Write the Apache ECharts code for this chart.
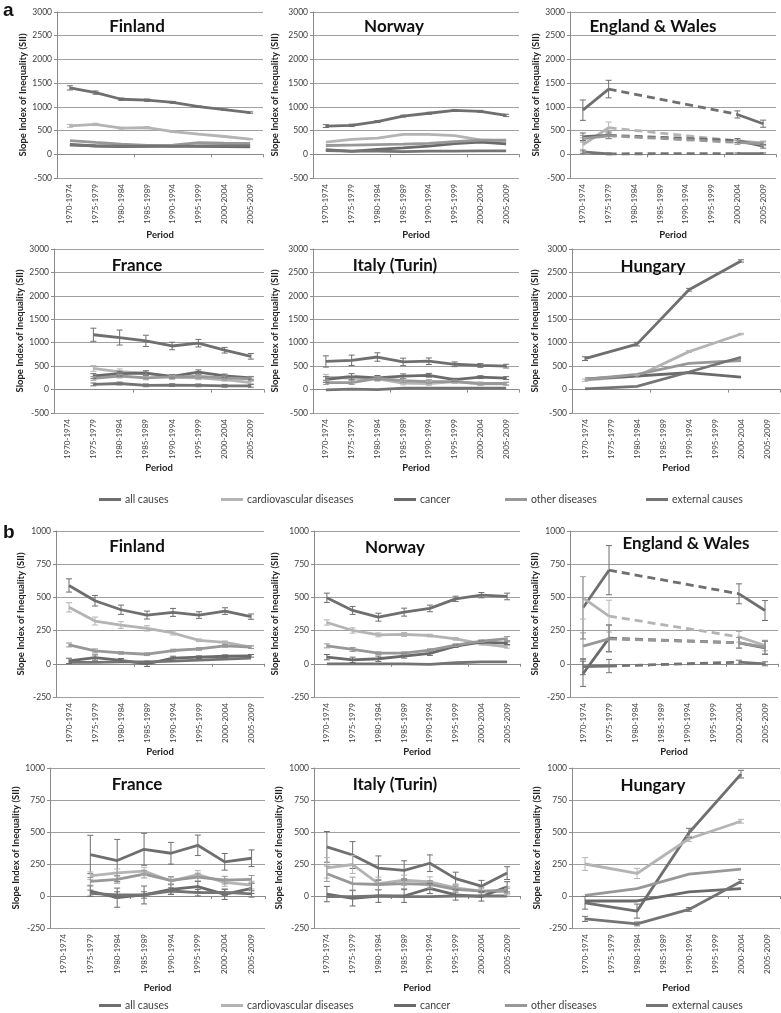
<!DOCTYPE html>
<html><head><meta charset="utf-8">
<script src="https://cdn.jsdelivr.net/npm/echarts@6.0.0/dist/echarts.min.js"></script>
<style>html,body{margin:0;padding:0;background:#fff}#c{width:781px;height:1013px}</style>
</head><body><div id="c"></div><script>
const PERIODS = ['1970-1974','1975-1979','1980-1984','1985-1989','1990-1994','1995-1999','2000-2004','2005-2009'];
const CAUSES = ['all causes','cardiovascular diseases','cancer','other diseases','external causes'];
const COLORS = ['#6f6f6f','#b4b4b4','#6a6a6a','#989898','#747474'];
const Y_TICKS_A = [-500, 3000, 500];
const Y_TICKS_B = [-250, 1000, 250];
const N = null;

// ---- panel a ----
const a_fin_all = [1400,1300,1160,1140,1095,1005,940,880];
const a_fin_cvd = [600,630,550,560,480,425,375,320];
const a_fin_can = [210,175,160,165,180,165,160,155];
const a_fin_oth = [290,250,215,185,195,245,235,230];
const a_fin_ext = [195,180,170,170,165,175,180,180];
const a_fin_all_e = [45,35,25,25,20,15,15,15];
const a_fin_cvd_e = [30,25,20,20,15,10,10,10];

const a_nor_all = [595,610,690,805,865,925,905,820];
const a_nor_cvd = [255,315,340,420,420,395,305,280];
const a_nor_can = [100,60,105,135,170,225,255,220];
const a_nor_oth = [185,195,205,215,230,265,300,300];
const a_nor_ext = [80,65,65,55,65,65,70,70];
const a_nor_all_e = [30,25,20,20,20,20,20,25];

const a_eng_all = [930,1375,N,N,N,N,840,645];
const a_eng_cvd = [200,560,N,N,N,N,280,240];
const a_eng_can = [370,400,N,N,N,N,290,170];
const a_eng_oth = [330,390,N,N,N,N,250,220];
const a_eng_ext = [50,10,N,N,N,N,15,15];
const a_eng_all_e = [215,185,0,0,0,0,75,75];
const a_eng_cvd_e = [150,120,0,0,0,0,40,40];
const a_eng_can_e = [80,70,0,0,0,0,40,40];
const a_eng_oth_e = [70,60,0,0,0,0,40,40];
const a_eng_ext_e = [40,20,0,0,0,0,15,15];

const a_fra_all = [N,1170,1110,1040,930,990,840,710];
const a_fra_cvd = [N,450,380,350,260,250,210,150];
const a_fra_can = [N,290,340,350,280,370,290,250];
const a_fra_oth = [N,240,290,250,270,280,250,230];
const a_fra_ext = [N,110,130,90,95,90,80,80];
const a_fra_all_e = [0,140,160,120,80,80,60,60];
const a_fra_cvd_e = [0,60,60,50,40,40,30,30];
const a_fra_can_e = [0,50,50,50,40,50,40,30];
const a_fra_oth_e = [0,40,40,40,40,40,40,40];
const a_fra_ext_e = [0,30,30,30,30,30,30,30];

const a_ita_all = [600,625,695,590,605,540,515,500];
const a_ita_cvd = [265,240,230,140,130,170,120,120];
const a_ita_can = [215,280,250,285,305,210,265,245];
const a_ita_oth = [150,150,240,190,170,170,130,130];
const a_ita_ext = [-5,10,0,30,30,30,30,30];
const a_ita_all_e = [120,110,90,80,70,50,40,40];
const a_ita_cvd_e = [60,60,50,40,40,30,30,30];
const a_ita_can_e = [60,60,50,50,40,30,30,30];
const a_ita_oth_e = [40,40,40,40,40,30,30,30];

const a_hun_all = [660,N,970,N,2130,N,2745,N];
const a_hun_cvd = [200,N,285,N,810,N,1185,N];
const a_hun_can = [230,N,290,N,360,N,265,N];
const a_hun_oth = [215,N,325,N,560,N,620,N];
const a_hun_ext = [15,N,70,N,375,N,690,N];
const a_hun_all_e = [40,0,40,0,30,0,25,0];
const a_hun_cvd_e = [25,0,25,0,20,0,15,0];

// ---- panel b ----
const b_fin_all = [590,475,407,367,387,367,397,355];
const b_fin_cvd = [425,322,292,267,232,177,162,125];
const b_fin_can = [22,47,25,0,42,50,57,60];
const b_fin_oth = [142,97,82,72,100,112,135,125];
const b_fin_ext = [10,10,15,15,20,27,35,42];
const b_fin_all_e = [50,40,35,30,30,25,25,20];
const b_fin_cvd_e = [35,30,25,20,15,10,10,10];
const b_fin_can_e = [20,20,15,20,15,10,10,10];
const b_fin_oth_e = [15,15,10,10,10,10,10,10];

const b_nor_all = [497,402,351,389,417,489,517,507];
const b_nor_cvd = [311,251,218,221,213,188,151,128];
const b_nor_can = [50,30,38,58,78,133,163,155];
const b_nor_oth = [135,108,80,80,103,140,170,190];
const b_nor_ext = [0,0,0,0,-5,8,15,15];
const b_nor_all_e = [35,30,30,30,25,20,20,25];
const b_nor_cvd_e = [20,20,15,15,10,10,10,10];
const b_nor_can_e = [20,20,20,15,15,10,10,10];
const b_nor_oth_e = [15,15,10,10,10,10,10,15];

const b_eng_all = [422,705,N,N,N,N,527,401];
const b_eng_cvd = [497,359,N,N,N,N,203,138];
const b_eng_can = [-75,193,N,N,N,N,158,120];
const b_eng_oth = [133,188,N,N,N,N,158,125];
const b_eng_ext = [-22,-17,N,N,N,N,12,0];
const b_eng_all_e = [235,185,0,0,0,0,75,75];
const b_eng_cvd_e = [160,120,0,0,0,0,40,40];
const b_eng_can_e = [95,100,0,0,0,0,40,50];
const b_eng_oth_e = [100,100,0,0,0,0,40,50];
const b_eng_ext_e = [60,50,0,0,0,0,15,15];

const b_fra_all = [N,324,277,365,334,396,267,295];
const b_fra_cvd = [N,158,181,194,117,168,106,85];
const b_fra_can = [N,39,-13,8,52,73,13,60];
const b_fra_oth = [N,114,130,171,122,148,124,130];
const b_fra_ext = [N,21,8,8,39,26,28,16];
const b_fra_all_e = [0,150,165,125,85,80,65,65];
const b_fra_cvd_e = [0,30,30,30,30,30,30,30];
const b_fra_can_e = [0,40,75,70,40,40,40,40];
const b_fra_oth_e = [0,30,30,30,30,30,30,30];
const b_fra_ext_e = [0,25,25,25,25,25,25,25];

const b_ita_all = [384,320,218,200,256,136,77,179];
const b_ita_cvd = [220,246,97,123,110,64,38,33];
const b_ita_can = [15,-18,0,0,59,8,-5,72];
const b_ita_oth = [174,97,90,97,90,51,38,46];
const b_ita_ext = [-5,-5,0,-5,-5,0,0,0];
const b_ita_all_e = [120,105,95,75,65,50,45,50];
const b_ita_cvd_e = [80,70,50,40,40,30,25,25];
const b_ita_can_e = [60,60,50,50,40,40,35,40];
const b_ita_oth_e = [60,50,40,40,30,25,25,25];

const b_hun_all = [-53,N,-118,N,494,N,952,N];
const b_hun_cvd = [250,N,176,N,447,N,584,N];
const b_hun_can = [-39,N,-39,N,32,N,58,N];
const b_hun_oth = [5,N,58,N,171,N,210,N];
const b_hun_ext = [-179,N,-218,N,-105,N,113,N];
const b_hun_all_e = [50,0,55,0,35,0,30,0];
const b_hun_cvd_e = [50,0,40,0,20,0,15,0];
const b_hun_ext_e = [20,0,15,0,15,0,15,0];

// ---- layout ----
const PANELS = [
 {t:'Finland', g:[57,12,206,166], y:Y_TICKS_A, tx:137, ty:27, nx:25, pg:52, mode:'n',
  d:[a_fin_all,a_fin_cvd,a_fin_can,a_fin_oth,a_fin_ext], e:[a_fin_all_e,a_fin_cvd_e,N,N,N]},
 {t:'Norway', g:[313,12,206,166], y:Y_TICKS_A, tx:394, ty:27, nx:275, pg:52, mode:'n',
  d:[a_nor_all,a_nor_cvd,a_nor_can,a_nor_oth,a_nor_ext], e:[a_nor_all_e,N,N,N,N]},
 {t:'England & Wales', g:[570,12,206,166], y:Y_TICKS_A, tx:653, ty:27, nx:537, pg:52, mode:'gap',
  d:[a_eng_all,a_eng_cvd,a_eng_can,a_eng_oth,a_eng_ext], e:[a_eng_all_e,a_eng_cvd_e,a_eng_can_e,a_eng_oth_e,a_eng_ext_e]},
 {t:'France', g:[54,249,210,164], y:Y_TICKS_A, tx:137, ty:266, nx:22, pg:48, mode:'n',
  d:[a_fra_all,a_fra_cvd,a_fra_can,a_fra_oth,a_fra_ext], e:[a_fra_all_e,a_fra_cvd_e,a_fra_can_e,a_fra_oth_e,a_fra_ext_e]},
 {t:'Italy (Turin)', g:[313,249,206,164], y:Y_TICKS_A, tx:395, ty:266, nx:275, pg:48, mode:'n',
  d:[a_ita_all,a_ita_cvd,a_ita_can,a_ita_oth,a_ita_ext], e:[a_ita_all_e,a_ita_cvd_e,a_ita_can_e,a_ita_oth_e,N]},
 {t:'Hungary', g:[572,249,208,164], y:Y_TICKS_A, tx:653, ty:267, nx:535, pg:48, mode:'conn',
  d:[a_hun_all,a_hun_cvd,a_hun_can,a_hun_oth,a_hun_ext], e:[a_hun_all_e,a_hun_cvd_e,N,N,N]},
 {t:'Finland', g:[56,531,208,166], y:Y_TICKS_B, tx:137, ty:547, nx:21, pg:41, mode:'n',
  d:[b_fin_all,b_fin_cvd,b_fin_can,b_fin_oth,b_fin_ext], e:[b_fin_all_e,b_fin_cvd_e,b_fin_can_e,b_fin_oth_e,N]},
 {t:'Norway', g:[314,531,206,166], y:Y_TICKS_B, tx:395, ty:548, nx:275, pg:41, mode:'n',
  d:[b_nor_all,b_nor_cvd,b_nor_can,b_nor_oth,b_nor_ext], e:[b_nor_all_e,b_nor_cvd_e,b_nor_can_e,b_nor_oth_e,N]},
 {t:'England & Wales', g:[570,531,208,166], y:Y_TICKS_B, tx:686, ty:544, nx:535, pg:41, mode:'gap',
  d:[b_eng_all,b_eng_cvd,b_eng_can,b_eng_oth,b_eng_ext], e:[b_eng_all_e,b_eng_cvd_e,b_eng_can_e,b_eng_oth_e,b_eng_ext_e]},
 {t:'France', g:[50,768,215,160], y:Y_TICKS_B, tx:137, ty:785, nx:21, pg:55, mode:'n',
  d:[b_fra_all,b_fra_cvd,b_fra_can,b_fra_oth,b_fra_ext], e:[b_fra_all_e,b_fra_cvd_e,b_fra_can_e,b_fra_oth_e,b_fra_ext_e]},
 {t:'Italy (Turin)', g:[314,768,206,160], y:Y_TICKS_B, tx:395, ty:785, nx:279, pg:55, mode:'n',
  d:[b_ita_all,b_ita_cvd,b_ita_can,b_ita_oth,b_ita_ext], e:[b_ita_all_e,b_ita_cvd_e,b_ita_can_e,b_ita_oth_e,N]},
 {t:'Hungary', g:[572,768,208,160], y:Y_TICKS_B, tx:653, ty:786, nx:537, pg:55, mode:'conn',
  d:[b_hun_all,b_hun_cvd,b_hun_can,b_hun_oth,b_hun_ext], e:[b_hun_all_e,b_hun_cvd_e,N,N,b_hun_ext_e]}
];
const LEGEND_X = [99, 221, 394, 505, 646];
const LEGEND_Y = [494, 1000];

const FONT = 'Lato, "Open Sans", sans-serif';
const GRIDC = '#a0a0a0';

function errRender(color){
  return function(params, api){
    const x = api.value(0), lo = api.value(1), hi = api.value(2);
    const a = api.coord([x, hi]), b = api.coord([x, lo]);
    const w = 3, st = {stroke: color, lineWidth: 1};
    return {type:'group', children:[
      {type:'line', shape:{x1:a[0],y1:a[1],x2:b[0],y2:b[1]}, style:st},
      {type:'line', shape:{x1:a[0]-w,y1:a[1],x2:a[0]+w,y2:a[1]}, style:st},
      {type:'line', shape:{x1:b[0]-w,y1:b[1],x2:b[0]+w,y2:b[1]}, style:st}
    ]};
  };
}

const grid = [], xAxis = [], yAxis = [], series = [], errSeries = [], graphic = [];
PANELS.forEach((p, i) => {
  grid.push({left:p.g[0], top:p.g[1], width:p.g[2], height:p.g[3]});
  xAxis.push({type:'category', gridIndex:i, data:PERIODS, position:'bottom', boundaryGap:true,
    axisLine:{show:false, onZero:false}, axisTick:{show:false}, splitLine:{show:false},
    axisLabel:{rotate:90, interval:0, fontSize:8, color:'#404040', margin:6, fontFamily:FONT},
    name:'Period', nameLocation:'middle', nameGap:p.pg,
    nameTextStyle:{fontWeight:'bold', fontSize:9.5, color:'#222', fontFamily:FONT}});
  xAxis.push({type:'category', gridIndex:i, data:PERIODS, position:'top', boundaryGap:true,
    axisLine:{show:true, onZero:true, lineStyle:{color:'#8a8a8a', width:1}},
    axisTick:{show:true, inside:true, length:3, lineStyle:{color:'#8a8a8a'}},
    axisLabel:{show:false}, splitLine:{show:false}});
  yAxis.push({type:'value', gridIndex:i, min:p.y[0], max:p.y[1], interval:p.y[2],
    axisLine:{show:true, lineStyle:{color:'#8a8a8a'}}, axisTick:{show:true, length:3, lineStyle:{color:'#8a8a8a'}},
    splitLine:{show:true, lineStyle:{color:GRIDC, width:1}},
    axisLabel:{fontSize:8.5, color:'#404040', margin:5, fontFamily:FONT, formatter: v => String(v)},
    name:'Slope Index of Inequality (SII)', nameLocation:'middle', nameRotate:90,
    nameGap:p.g[0]-p.nx-5,
    nameTextStyle:{fontWeight:'bold', fontSize:9.5, color:'#222', fontFamily:FONT}});
  p.d.forEach((vals, k) => {
    series.push({type:'line', name:CAUSES[k], xAxisIndex:2*i, yAxisIndex:i, data:vals,
      connectNulls:p.mode==='conn', showSymbol:false, symbol:'none', silent:true, animation:false,
      color:COLORS[k], lineStyle:{color:COLORS[k], width:2.8}, z:3});
    if (p.mode === 'gap') {
      const dash = vals.map((v, j) => (j === 1 || j === 6) ? v : null);
      series.push({type:'line', name:CAUSES[k], xAxisIndex:2*i, yAxisIndex:i, data:dash,
        connectNulls:true, showSymbol:false, symbol:'none', silent:true, animation:false,
        color:COLORS[k], lineStyle:{color:COLORS[k], width:2.8, type:[8,5]}, z:3});
    }
    const e = p.e[k];
    if (e) {
      const ed = [];
      vals.forEach((v, j) => { if (v !== null && e[j]) ed.push([j, v - e[j], v + e[j]]); });
      errSeries.push({type:'custom', name:'err', xAxisIndex:2*i, yAxisIndex:i, data:ed,
        encode:{x:0, y:[1,2]}, renderItem:errRender(COLORS[k]), silent:true, animation:false, z:4});
    }
  });
  graphic.push({type:'text', x:p.tx, y:p.ty, z:10,
    style:{text:p.t, textAlign:'center', textVerticalAlign:'middle',
      font:'bold 17px ' + FONT, fill:'#111'}});
});
graphic.push({type:'text', x:3, y:11, style:{text:'a', textVerticalAlign:'middle', font:'bold 19px "Liberation Sans", Arial, sans-serif', fill:'#111'}});
graphic.push({type:'text', x:3, y:533, style:{text:'b', textVerticalAlign:'middle', font:'bold 19px "Liberation Sans", Arial, sans-serif', fill:'#111'}});

const legend = [];
LEGEND_Y.forEach(ly => {
  CAUSES.forEach((c, k) => {
    legend.push({data:[c], left:LEGEND_X[k], top:ly, orient:'horizontal', icon:'rect',
      itemWidth:22, itemHeight:3, itemGap:0, selectedMode:false, padding:0,
      textStyle:{fontSize:10.5, color:'#404040', fontFamily:FONT, padding:[0,0,0,-1]}});
  });
});

const chart = echarts.init(document.getElementById('c'), null, {renderer:'canvas'});
chart.setOption({
  backgroundColor:'#fff', animation:false,
  grid, xAxis, yAxis, legend, graphic,
  series: series.concat(errSeries)
});
</script></body></html>
